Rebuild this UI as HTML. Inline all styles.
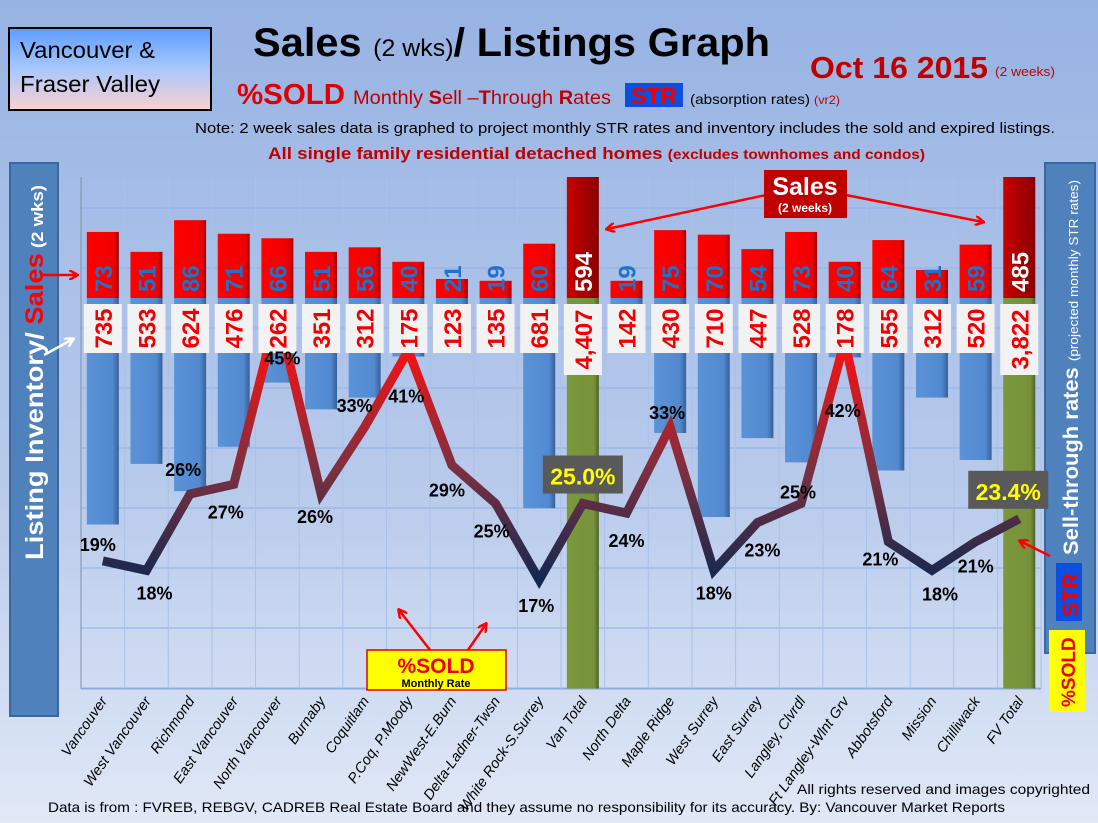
<!DOCTYPE html>
<html><head><meta charset="utf-8"><style>
html,body{margin:0;padding:0;width:1098px;height:823px;overflow:hidden}
svg{display:block}
text{font-family:"Liberation Sans",sans-serif}
.n{font-family:"Liberation Sans Narrow","Liberation Sans",sans-serif}
</style></head><body>
<svg id="chart" width="1098" height="823" viewBox="0 0 1098 823" xmlns="http://www.w3.org/2000/svg">
<defs>
<linearGradient id="bg" x1="0" y1="0" x2="0" y2="1"><stop offset="0" stop-color="#97b3e3"/><stop offset="0.6" stop-color="#b9cbec"/><stop offset="1" stop-color="#e1e8f6"/></linearGradient>
<linearGradient id="hdr" x1="0" y1="0" x2="0" y2="1"><stop offset="0" stop-color="#5d9cff"/><stop offset="0.5" stop-color="#a9c8fb"/><stop offset="1" stop-color="#fbd0d0"/></linearGradient>
<linearGradient id="inv" x1="0" y1="0" x2="1" y2="0"><stop offset="0" stop-color="#5b93d8"/><stop offset="0.8" stop-color="#5289d0"/><stop offset="1" stop-color="#36619a"/></linearGradient>
<linearGradient id="sal" x1="0" y1="0" x2="1" y2="0"><stop offset="0" stop-color="#ff0000"/><stop offset="0.85" stop-color="#f00000"/><stop offset="1" stop-color="#a00000"/></linearGradient>
<linearGradient id="salT" x1="0" y1="0" x2="1" y2="0"><stop offset="0" stop-color="#c80000"/><stop offset="1" stop-color="#8a0000"/></linearGradient>
<linearGradient id="grn" x1="0" y1="0" x2="1" y2="0"><stop offset="0" stop-color="#7a983b"/><stop offset="0.85" stop-color="#76923b"/><stop offset="1" stop-color="#4e6326"/></linearGradient>
<linearGradient id="ln" gradientUnits="userSpaceOnUse" x1="0" y1="580" x2="0" y2="340"><stop offset="0" stop-color="#14284f"/><stop offset="0.45" stop-color="#7a3040"/><stop offset="1" stop-color="#ff1010"/></linearGradient>
<marker id="ar" markerWidth="10" markerHeight="10" refX="8" refY="5" orient="auto" markerUnits="userSpaceOnUse"><path d="M0,0 L9,5 L0,10" fill="none" stroke="#f00" stroke-width="2.5"/></marker>
<marker id="arw" markerWidth="10" markerHeight="10" refX="8" refY="5" orient="auto" markerUnits="userSpaceOnUse"><path d="M0,0 L9,5 L0,10" fill="none" stroke="#fff" stroke-width="2.5"/></marker>
</defs>
<rect width="1098" height="823" fill="url(#bg)"/>

<g>
<rect x="9" y="28" width="202" height="82" fill="url(#hdr)" stroke="#000" stroke-width="2"/>
<text class="n" x="20" y="58" font-size="23" textLength="135" lengthAdjust="spacingAndGlyphs">Vancouver &amp;</text>
<text class="n" x="20" y="92" font-size="23" textLength="140" lengthAdjust="spacingAndGlyphs">Fraser Valley</text>
<text class="n" x="253" y="56" font-size="40" font-weight="bold" textLength="517" lengthAdjust="spacingAndGlyphs">Sales <tspan font-size="24" font-weight="normal">(2 wks)</tspan>/ Listings Graph</text>
<text class="n" x="810" y="78" font-size="31" fill="#c00000" font-weight="bold" textLength="178" lengthAdjust="spacingAndGlyphs">Oct 16 2015</text>
<text class="n" x="995" y="76" font-size="13" fill="#c00000" textLength="60" lengthAdjust="spacingAndGlyphs">(2 weeks)</text>
<text class="n" x="237" y="104" font-size="29" fill="#e00000" font-weight="bold" textLength="108" lengthAdjust="spacingAndGlyphs">%SOLD</text>
<text class="n" x="353" y="104" font-size="19" fill="#c00000" textLength="258" lengthAdjust="spacingAndGlyphs">Monthly <tspan font-weight="bold">S</tspan>ell –<tspan font-weight="bold">T</tspan>hrough <tspan font-weight="bold">R</tspan>ates</text>
<rect x="625" y="83" width="58" height="24" fill="#0a4fe0"/>
<text x="654" y="104" font-size="23" font-weight="bold" fill="#f00000" text-anchor="middle">STR</text>
<text class="n" x="690" y="104" font-size="14" textLength="120" lengthAdjust="spacingAndGlyphs">(absorption rates)</text>
<text class="n" x="814" y="104" font-size="12" fill="#c00000" textLength="26" lengthAdjust="spacingAndGlyphs">(vr2)</text>
<text class="n" x="195" y="133" font-size="14.5" textLength="860" lengthAdjust="spacingAndGlyphs">Note: 2 week sales data is graphed to project monthly STR rates and inventory includes  the sold and expired listings.</text>
<text class="n" x="268" y="159" font-size="17" font-weight="bold" fill="#c00000" textLength="657" lengthAdjust="spacingAndGlyphs">All single family residential detached homes <tspan font-size="14">(excludes townhomes and condos)</tspan></text>
</g>

<rect x="10" y="163" width="48" height="553" fill="#4f81bd" stroke="#3c679c" stroke-width="2"/>
<text transform="translate(43,560) rotate(-90)" font-size="25" font-weight="bold" fill="#fff" textLength="375" lengthAdjust="spacingAndGlyphs">Listing Inventory/ <tspan fill="#f00">Sales</tspan><tspan font-size="17" fill="#fff"> (2  wks)</tspan></text>
<rect x="1045" y="163" width="50" height="490" fill="#4f81bd" stroke="#3c679c" stroke-width="2"/>
<text transform="translate(1078,555) rotate(-90)" font-size="21" font-weight="bold" fill="#fff" textLength="375" lengthAdjust="spacingAndGlyphs">Sell-through rates <tspan font-size="13" font-weight="normal">  (projected monthly STR rates)</tspan></text>
<rect x="1056" y="563" width="26" height="58" fill="#0a4fe0"/>
<text transform="translate(1078,617) rotate(-90)" font-size="22" font-weight="bold" fill="#f00000">STR</text>
<rect x="1049" y="630" width="36" height="82" fill="#ffff00"/>
<text transform="translate(1075,707) rotate(-90)" font-size="19" font-weight="bold" fill="#f00000">%SOLD</text>

<g id="grid"></g>
<g id="bars"></g>
<g id="line"></g>
<g id="labels"></g>
<g id="xaxis"></g>

<g>
<line x1="766" y1="195" x2="607" y2="229" stroke="#f00" stroke-width="2.5" marker-end="url(#ar)"/>
<line x1="846" y1="195" x2="983" y2="222" stroke="#f00" stroke-width="2.5" marker-end="url(#ar)"/>
<rect x="764" y="170" width="83" height="48" fill="#c00000"/>
<text x="805" y="195" font-size="25" font-weight="bold" fill="#fff" text-anchor="middle">Sales</text>
<text x="805" y="212" font-size="12" font-weight="bold" fill="#fff" text-anchor="middle">(2 weeks)</text>
</g>
<g>
<line x1="430" y1="650" x2="399" y2="610" stroke="#f00" stroke-width="2.5" marker-end="url(#ar)"/>
<line x1="468" y1="650" x2="486" y2="624" stroke="#f00" stroke-width="2.5" marker-end="url(#ar)"/>
<rect x="367" y="650" width="139" height="40" fill="#ffff00" stroke="#e00000" stroke-width="1.5"/>
<text x="436" y="673" font-size="21" font-weight="bold" fill="#f00000" text-anchor="middle">%SOLD</text>
<text x="436" y="687" font-size="11" font-weight="bold" fill="#000" text-anchor="middle">Monthly Rate</text>
</g>
<line x1="40" y1="275" x2="77" y2="275" stroke="#f00" stroke-width="2.5" marker-end="url(#ar)"/>
<line x1="44" y1="355" x2="73" y2="339" stroke="#fff" stroke-width="2.5" marker-end="url(#arw)"/>
<line x1="1050" y1="556" x2="1020" y2="541" stroke="#f00" stroke-width="2.5" marker-end="url(#ar)"/>

<text class="n" x="797" y="794" font-size="14" textLength="293" lengthAdjust="spacingAndGlyphs">All rights reserved and  images copyrighted</text>
<text class="n" x="48" y="812" font-size="14" textLength="957" lengthAdjust="spacingAndGlyphs">Data is  from : FVREB, REBGV, CADREB Real Estate Board and they assume  no responsibility  for its accuracy. By: Vancouver Market Reports</text>

<script>
const categories = ["Vancouver","West Vancouver","Richmond","East Vancouver","North Vancouver","Burnaby","Coquitlam","P.Coq, P.Moody","NewWest-E.Burn","Delta-Ladner-Twsn","White Rock-S.Surrey","Van Total","North Delta","Maple Ridge","West Surrey","East Surrey","Langley, Clvrdl","Ft Langley-Wlnt Grv","Abbotsford","Mission","Chilliwack","FV Total"];
const sales = [73,51,86,71,66,51,56,40,21,19,60,594,19,75,70,54,73,40,64,31,59,485];
const inventory = [735,533,624,476,262,351,312,175,123,135,681,4407,142,430,710,447,528,178,555,312,520,3822];
const strPct = [19,18,26,27,45,26,33,41,29,25,17,25.0,24,33,18,23,25,42,21,18,21,23.4];
const isTotal = [0,0,0,0,0,0,0,0,0,0,0,1,0,0,0,0,0,0,0,0,0,1];
const labelDy = [-17,22,-25,27,45,22,-22,45,24,27,25,-28,27,-15,22,27,-12,69,17,23,24,-28];
const labelDx = [-5,8,-7,-8,5,-6,-10,-2,-5,-4,-3,0,0,-3,0,5,-3,-2,-8,8,0,-11];

const NS = "http://www.w3.org/2000/svg";
const X0 = 81, STEP = 43.64, PTOP = 177, PBOT = 689, BASE = 298, INVTOP = 304;
const cx = i => X0 + STEP * (i + 0.5);
const ySales = v => Math.max(PTOP, BASE - v * 0.905);
const yInv = v => Math.min(PBOT, INVTOP + v * 0.30);
const yStr = p => 742.5 - 9.56 * p;
function mk(tag, attrs, parent) { const e = document.createElementNS(NS, tag); for (const k in attrs) e.setAttribute(k, attrs[k]); parent.appendChild(e); return e; }

const grid = document.getElementById('grid');
for (let y = 208; y <= 689; y += 60) {
  const g = mk('line', {x1: X0, x2: X0 + STEP * 22, y1: y, y2: y, stroke: '#8fb0e6', 'stroke-width': 1}, grid);
  
  
}
for (let i = 0; i <= 22; i++) {
  const g = mk('line', {x1: X0 + STEP * i, x2: X0 + STEP * i, y1: PTOP, y2: PBOT, stroke: i === 0 ? '#8090a8' : '#a9c1ea', 'stroke-width': 1}, grid);
  
  
}

const bars = document.getElementById('bars');
const labels = document.getElementById('labels');
const xaxis = document.getElementById('xaxis');
const W = 32;
categories.forEach((c, i) => {
  const x = cx(i) - W / 2;
  const tot = isTotal[i];
  const ib = mk('rect', {x: x, y: BASE, width: W, height: (tot ? PBOT : yInv(inventory[i])) - BASE, fill: tot ? 'url(#grn)' : 'url(#inv)'}, bars);
  
  
  const sy = ySales(sales[i]);
  const sb = mk('rect', {x: x, y: sy, width: W, height: BASE - sy, fill: tot ? 'url(#salT)' : 'url(#sal)'}, bars);
  
  
  const st = mk('text', {transform: `translate(${cx(i) + 9},${BASE - 6}) rotate(-90)`, 'font-size': 24, 'font-weight': 'bold', fill: tot ? '#fff' : '#1f72c8'}, bars);
  st.textContent = sales[i];
  
  
});

const pts = strPct.map((p, i) => `${cx(i)},${yStr(p)}`).join(' ');
const pl = mk('polyline', {points: pts, fill: 'none', stroke: 'url(#ln)', 'stroke-width': 9, 'stroke-linejoin': 'miter', 'stroke-miterlimit': 3}, document.getElementById('line'));



categories.forEach((c, i) => {
  const tot = isTotal[i];
  const bw = 38;
  const bh = tot ? 71 : 49;
  const br = mk('rect', {x: cx(i) - bw / 2, y: INVTOP, width: bw, height: bh, fill: '#f2f2f2'}, labels);
  
  
  const it = mk('text', {transform: `translate(${cx(i) + 9},${INVTOP + bh / 2}) rotate(-90)`, 'font-size': 24, 'font-weight': 'bold', fill: '#f00000', 'text-anchor': 'middle'}, labels);
  it.textContent = inventory[i].toLocaleString('en-US');
  
  

  const lx = cx(i) + labelDx[i], ly = yStr(strPct[i]) + labelDy[i];
  if (tot) {
    const r = mk('rect', {x: lx - 40, y: ly - 20, width: 80, height: 38, fill: '#595959'}, labels);
    
    
    const t = mk('text', {x: lx, y: ly + 9, 'font-size': 23, 'font-weight': 'bold', fill: '#ffff00', 'text-anchor': 'middle'}, labels);
    t.textContent = strPct[i].toFixed(1) + '%';
    
    
  } else {
    const t = mk('text', {x: lx, y: ly + 7, 'font-size': 18, 'font-weight': 'bold', fill: '#000', 'text-anchor': 'middle', class: 'n'}, labels);
    t.textContent = strPct[i] + '%';
    
    
  }

  const xl = mk('text', {transform: `translate(${cx(i) + 5},${PBOT + 12}) rotate(-55)`, 'font-size': 14.5, 'font-style': 'italic', 'text-anchor': 'end'}, xaxis);
  xl.textContent = c;
  
  
});
const ax = mk('line', {x1: X0, x2: X0 + STEP * 22, y1: PBOT, y2: PBOT, stroke: '#8aa8d8', 'stroke-width': 1}, xaxis);


</script>
</svg>
</body></html>
